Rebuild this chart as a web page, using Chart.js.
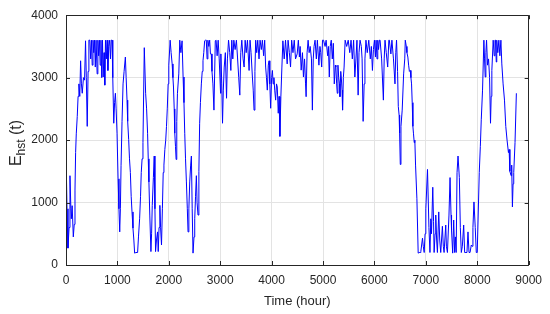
<!DOCTYPE html>
<html>
<head>
<meta charset="utf-8">
<script src="https://cdn.jsdelivr.net/npm/chart.js@4/dist/chart.umd.min.js"></script>
<style>
  html, body { margin: 0; padding: 0; background: #fff; }
  canvas { display: block; }
</style>
</head>
<body>
<canvas id="grafico" width="550" height="314"></canvas>
<script>
// horas (eje x) y energia almacenada E_hst (eje y)
var horas = [
  0,20,38,60,77,95,103,120,142,160,175,187,200,219,235,251,268,284,300,316,340,361,380,395,413,430,445,464,480,495,
  510,525,540,555,570,585,606,620,635,650,665,680,695,710,723,740,755,768,785,800,815,832,850,865,880,896,910,929,945,961,
  975,993,1013,1030,1045,1058,1071,1090,1110,1130,1155,1170,1187,1200,1219,1235,1252,1268,1284,1303,1320,1335,1360,1393,1410,1432,1450,1464,1480,1497,
  1523,1549,1568,1587,1600,1613,1630,1652,1665,1678,1700,1716,1730,1742,1760,1781,1794,1810,1826,1840,1858,1875,1891,1905,1923,1940,1955,1970,1987,2000,
  2026,2045,2065,2080,2091,2105,2116,2130,2142,2155,2168,2194,2213,2235,2258,2278,2295,2310,2325,2342,2360,2374,2390,2407,2425,2439,2455,2471,2490,2504,
  2520,2536,2550,2568,2585,2600,2615,2633,2650,2665,2680,2697,2715,2729,2745,2760,2778,2795,2810,2826,2840,2858,2878,2904,2920,2940,2960,2980,3007,
  3013,3030,3045,3060,3078,3100,3123,3140,3162,3185,3207,3225,3245,3265,3290,3315,3336,3360,3381,3400,3420,3445,3465,3485,3505,3530,3562,3580,3600,3626,
  3642,3658,3675,3690,3710,3730,3755,3775,3800,3820,3845,3865,3884,3900,3916,3935,3950,3965,3981,4000,4015,4030,4045,4060,4078,4095,4110,4129,4145,4161,
  4180,4200,4219,4245,4270,4303,4320,4345,4368,4390,4415,4440,4465,4497,
  4520,4540,4555,4575,4600,4619,4640,4660,4671,4690,4710,4730,4750,4775,4793,4810,4825,4845,4870,4890,4920,4940,4955,4974,4990,5010,5040,5060,5090,5105,
  5122,5140,5160,5180,5200,5219,5240,5250,5265,5277,5290,5305,5320,5329,5345,5355,5370,5380,5395,5410,5430,5460,5490,5520,5545,5570,5595,5619,5640,5660,
  5683,5700,5720,5745,5760,5780,5800,5815,5835,5860,5890,5920,5940,5961,5980,6000,
  6020,6032,6050,6065,6080,6097,6110,6140,6174,6190,6206,6230,6258,6280,6290,6320,6340,6370,6400,6415,6430,6450,6464,6480,6490,6503,6516,6540,6568,6590,
  6600,6620,6632,6650,6665,6680,6697,6710,6722,6735,6748,6760,6774,6786,6800,6826,6851,6870,6890,6903,6935,6950,6968,6985,7000,7032,7060,7080,7097,7110,
  7135,7150,7161,7180,7193,7210,7225,7251,7270,7290,7322,7340,7355,7387,7400,7420,7450,7471,7490,7500,7522,
  7542,7560,7575,7590,7607,7626,7652,7671,7690,7710,7736,7755,7780,7800,7820,7840,7860,7884,7900,7916,7936,7961,7981,8000,8039,8060,8078,8103,8129,8142,
  8155,8168,8181,8200,8220,8240,8258,8271,8284,8310,8330,8345,8355,8370,8380,8400,8420,8440,8460,8478,8503,8530,8555,8580,8607,8620,8635,8658,8670,8684,
  8697,8710,8735,8761
];
var energia = [
  1800,900,270,600,1430,900,740,950,450,650,1200,1800,2100,2380,2700,2900,2700,3270,2900,2750,3000,2960,3590,3000,2220,3100,3600,3600,3300,3600,
  3200,3600,3400,3600,3170,3600,3060,3600,3350,3600,3200,3600,3000,3600,3010,3400,2880,3600,3300,3600,3115,3500,3600,3300,3600,3600,3000,2270,2600,2750,
  2500,2110,1380,900,530,900,1590,2300,2900,3100,3330,3000,2640,2300,2010,1700,1480,1100,850,590,400,190,200,200,450,740,1100,1480,1700,1960,
  3480,2750,2500,2110,1700,1330,800,215,500,955,1400,1745,900,215,400,530,215,600,955,600,320,900,1480,1600,1850,2000,2220,2500,2900,3200,
  3600,3400,3220,3000,2850,2500,2110,1900,1690,2300,2750,3060,3600,3400,3590,3010,2600,2110,1700,1330,900,530,900,1330,1600,1745,900,190,450,740,
  1100,1430,1000,800,1500,2270,2600,2900,3100,3270,3400,3590,3600,3600,3300,3600,3500,3600,3380,3380,3100,2900,2480,3590,3600,3350,3600,3300,2750,
  3380,2900,2270,2800,3170,3400,2670,3300,3600,3400,3115,3600,3300,3600,3450,3600,3330,3000,2720,3400,3600,3300,3170,3600,3400,3600,3115,3600,3400,3010,
  2800,2480,3100,3600,3400,3600,3300,3600,3450,3600,3350,3600,3170,3000,2800,3200,3270,2900,2510,3000,3115,2900,3000,2800,2640,2900,2850,2430,2700,2060,
  2700,3170,3590,3300,3600,3220,3600,3400,3170,3600,3400,3600,3300,3380,
  3600,3330,3500,3120,3400,3010,3300,2900,2695,3400,3600,3400,3500,3300,2480,3300,3500,3600,3300,3600,3200,3500,3400,3170,3600,3600,3500,3600,3350,3500,
  3010,3500,3600,3300,3550,2900,3200,3170,2900,2750,3200,3000,2900,2695,3100,3010,2800,2480,3000,3170,3600,3500,3600,3400,3600,3300,3600,3010,3300,3600,
  2720,3400,3600,3500,3300,2300,2900,3300,3600,3400,3600,3300,3500,3115,3450,3600,
  3330,3600,3300,3600,3450,3600,3600,3300,2640,3300,3600,3400,3170,3600,3600,3380,3600,3300,2900,3400,3600,3100,2540,2400,2110,1610,2220,2480,3060,3300,
  3600,3500,3400,3330,3200,3100,3115,3000,2900,2600,2220,2100,1960,2000,1600,1060,190,200,200,220,430,300,200,500,900,1530,600,200,740,500,
  1245,700,200,500,800,400,200,850,400,200,620,300,200,640,300,200,800,1400,800,560,190,
  720,200,450,200,1480,1745,1400,600,200,300,640,200,200,200,530,200,200,320,300,600,1010,600,200,200,1480,1900,2325,2800,3600,3300,
  3010,3400,3600,3200,3300,3000,2270,2700,3115,3600,3350,3600,3600,3250,3600,3400,3600,3350,3600,3220,2900,2640,2220,2000,1800,1850,1500,1430,1600,930,
  1300,1480,1960,2750
];
var ticksX = [0, 1000, 2000, 3000, 4000, 5000, 6000, 7000, 8000, 9000];
var ticksY = [0, 1000, 2000, 3000, 4000];

var colorTexto = '#262626';
var fuente = "'Liberation Sans', Arial, sans-serif";

var puntos = horas.map(function (h, i) { return { x: h, y: energia[i] }; });

// caja, marcas hacia adentro y titulos de ejes (estilo MATLAB)
var marcoPlugin = {
  id: 'marco',
  afterDraw: function (chart) {
    var ctx = chart.ctx;
    var a = chart.chartArea;
    var sx = chart.scales.x, sy = chart.scales.y;
    ctx.save();
    ctx.strokeStyle = colorTexto;
    ctx.lineWidth = 1;
    ctx.beginPath();
    ctx.rect(Math.round(a.left) + 0.5, Math.round(a.top) + 0.5,
             Math.round(a.right - a.left) - 1, Math.round(a.bottom - a.top));
    ctx.stroke();
    ctx.beginPath();
    ticksX.forEach(function (t) {
      var px = Math.round(sx.getPixelForValue(t)) + 0.5;
      ctx.moveTo(px, a.bottom); ctx.lineTo(px, a.bottom - 4);
      ctx.moveTo(px, a.top); ctx.lineTo(px, a.top + 4);
    });
    ticksY.forEach(function (t) {
      var py = Math.round(sy.getPixelForValue(t)) + 0.5;
      ctx.moveTo(a.left, py); ctx.lineTo(a.left + 4, py);
      ctx.moveTo(a.right, py); ctx.lineTo(a.right - 4, py);
    });
    ctx.stroke();

    // titulo eje x
    ctx.fillStyle = colorTexto;
    ctx.font = '13px ' + fuente;
    ctx.textAlign = 'center';
    ctx.textBaseline = 'middle';
    ctx.fillText('Time (hour)', (a.left + a.right) / 2, 301);

    // titulo eje y: E con subindice hst
    ctx.translate(21, 143);
    ctx.rotate(-Math.PI / 2);
    ctx.textAlign = 'left';
    ctx.textBaseline = 'alphabetic';
    var fGrande = '16px ' + fuente, fChica = '12px ' + fuente;
    ctx.font = fGrande; var wE = ctx.measureText('E').width;
    var wT = ctx.measureText(' (t)').width;
    ctx.font = fChica; var wS = ctx.measureText('hst').width;
    var x0 = -(wE + wS + wT) / 2;
    ctx.font = fGrande; ctx.fillText('E', x0, 0);
    ctx.font = fChica; ctx.fillText('hst', x0 + wE, 4);
    ctx.font = fGrande; ctx.fillText(' (t)', x0 + wE + wS, 0);
    ctx.restore();
  }
};

function sinComas(v) { return String(v); }

new Chart(document.getElementById('grafico'), {
  type: 'line',
  data: {
    datasets: [{
      data: puntos,
      borderColor: '#0000ff',
      borderWidth: 1,
      pointRadius: 0,
      tension: 0,
      fill: false
    }]
  },
  options: {
    responsive: false,
    animation: false,
    layout: { padding: { top: 12, right: 19, left: 0, bottom: 0 } },
    plugins: { legend: { display: false }, tooltip: { enabled: false } },
    scales: {
      x: {
        type: 'linear', min: 0, max: 9000,
        afterBuildTicks: function (s) { s.ticks = ticksX.map(function (v) { return { value: v }; }); },
        afterFit: function (s) { s.height = 49; },
        ticks: { color: colorTexto, font: { family: fuente, size: 12 }, padding: 8, maxRotation: 0, callback: sinComas },
        grid: { color: '#e3e3e3', drawTicks: false },
        border: { display: false }
      },
      y: {
        type: 'linear', min: 0, max: 4000,
        afterBuildTicks: function (s) { s.ticks = ticksY.map(function (v) { return { value: v }; }); },
        afterFit: function (s) { s.width = 66; },
        ticks: { color: colorTexto, font: { family: fuente, size: 12 }, padding: 8, callback: sinComas },
        grid: { color: '#e3e3e3', drawTicks: false },
        border: { display: false }
      }
    }
  },
  plugins: [marcoPlugin]
});
</script>
</body>
</html>
